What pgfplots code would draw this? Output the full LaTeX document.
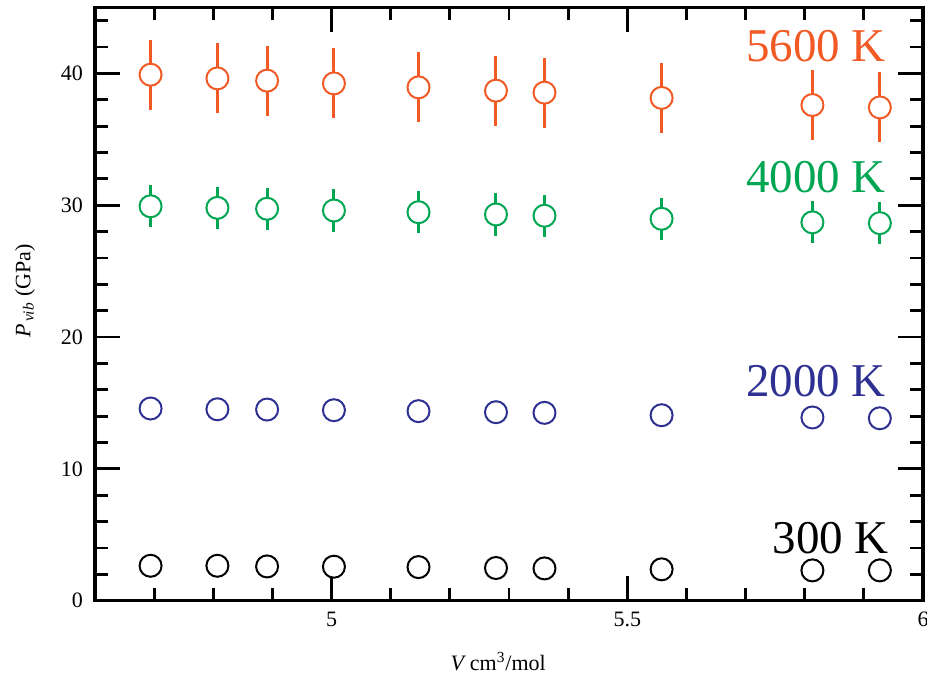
\documentclass[border=0pt]{standalone}
\usepackage{fontspec}
\setmainfont{Liberation Serif}
\usepackage{pgfplots}
\usepackage{pgfplotstable}
\pgfplotsset{compat=1.18}

\definecolor{hot}{RGB}{241,90,36}
\definecolor{warm}{RGB}{0,166,81}
\definecolor{cool}{RGB}{46,49,146}

\tikzset{temp/.style={anchor=base east, inner sep=0pt, font=\fontsize{23.5}{28}\selectfont}}
\pgfplotsset{ring/.style={only marks, mark=*, mark size=5.5pt,
    mark options={line width=1pt, fill=white}}}

% V (cm^3/mol), P_vib (GPa), error
\pgfplotstableread{
x      y      e
4.694  39.90  2.65
4.807  39.62  2.65
4.891  39.45  2.65
5.004  39.24  2.65
5.147  38.94  2.65
5.278  38.69  2.65
5.360  38.54  2.65
5.558  38.14  2.65
5.813  37.60  2.65
5.927  37.42  2.65
}\tfivesix
\pgfplotstableread{
x      y      e
4.694  29.92  1.6
4.807  29.80  1.6
4.891  29.73  1.6
5.004  29.60  1.6
5.147  29.47  1.6
5.278  29.30  1.6
5.360  29.20  1.6
5.558  28.97  1.6
5.813  28.70  1.6
5.927  28.64  1.6
}\tfour
\pgfplotstableread{
x      y
4.694  14.58
4.807  14.52
4.891  14.50
5.004  14.45
5.147  14.38
5.278  14.30
5.360  14.25
5.558  14.07
5.813  13.90
5.927  13.84
}\ttwo
\pgfplotstableread{
x      y
4.694  2.65
4.807  2.65
4.891  2.60
5.004  2.58
5.147  2.55
5.278  2.48
5.360  2.45
5.558  2.38
5.813  2.30
5.927  2.30
}\tthree

\begin{document}
\begin{tikzpicture}
\begin{axis}[
    scale only axis,
    width=414pt, height=296.6pt,
    xmin=4.6, xmax=6, ymin=0, ymax=45,
    xtick={5,5.5,6},
    minor xtick={4.7,4.8,4.9,5.1,5.2,5.3,5.4,5.6,5.7,5.8,5.9},
    ytick={0,10,20,30,40},
    minor ytick={2,4,6,8,12,14,16,18,22,24,26,28,32,34,36,38,42,44},
    tick align=inside,
    major tick length=12.5pt, minor tick length=6.5pt,
    axis line style={line width=1.6pt},
    every tick/.style={black, line width=1.4pt},
    /pgf/number format/assume math mode=true,
    tick label style={font=\fontsize{11}{13}\selectfont},
    yticklabel style={xshift=-2.5pt},
    xticklabel style={yshift=-2pt},
    xlabel={\textit{V}\,cm\textsuperscript{3}/mol},
    ylabel={\textit{P}\textsubscript{\,\textit{vib}} (GPa)},
    label style={font=\fontsize{11}{13}\selectfont},
    xlabel style={at={(axis description cs:0.487,-0.118)}, anchor=base},
    ylabel style={at={(axis description cs:-0.0845,0.522)}, anchor=center},
    clip=false,
]
\coordinate (bl) at (rel axis cs:-0.1147,-0.127);
\coordinate (tr) at (rel axis cs:1.0048,1.0126);

% error bars first, rings on top
\addplot[draw=none, mark=none,
    error bars/.cd, y dir=both, y explicit, error mark=none,
    error bar style={line width=1.5pt, draw=hot}]
    table[x=x, y=y, y error=e] {\tfivesix};
\addplot[hot, ring] table[x=x, y=y] {\tfivesix};

\addplot[draw=none, mark=none,
    error bars/.cd, y dir=both, y explicit, error mark=none,
    error bar style={line width=1.5pt, draw=warm}]
    table[x=x, y=y, y error=e] {\tfour};
\addplot[warm, ring] table[x=x, y=y] {\tfour};

\addplot[cool, ring] table[x=x, y=y] {\ttwo};
\addplot[black, ring] table[x=x, y=y] {\tthree};

\node[temp, text=hot] at (axis cs:5.938,40.9) {5600 K};
\node[temp, text=warm] at (axis cs:5.938,31.0) {4000 K};
\node[temp, text=cool] at (axis cs:5.938,15.5) {2000 K};
\node[temp, text=black] at (axis cs:5.943,3.6) {300 K};
\end{axis}
\pgfresetboundingbox
\path[use as bounding box] (bl) rectangle (tr);
\end{tikzpicture}
\end{document}
